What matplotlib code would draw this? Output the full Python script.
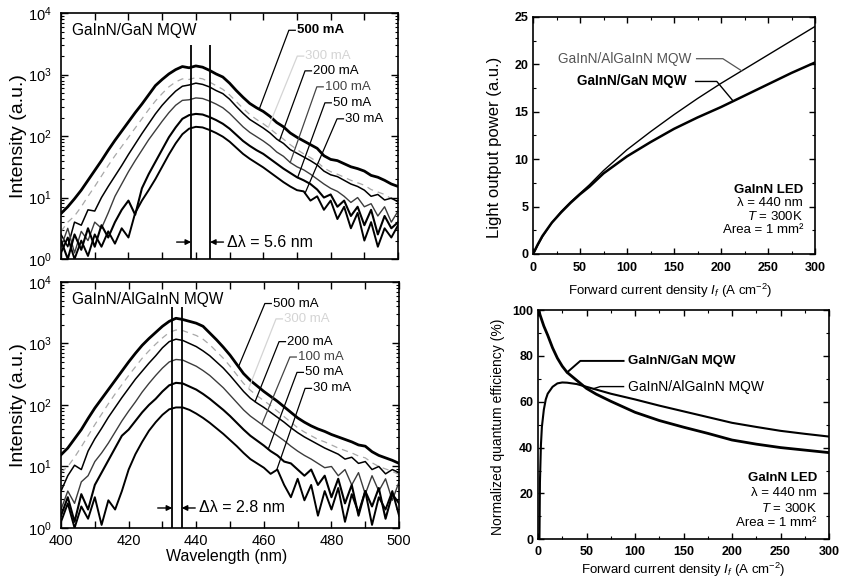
"""Emission spectra, light output and efficiency of GaInN/GaN vs GaInN/AlGaInN MQW LEDs."""
import matplotlib

matplotlib.use("Agg")
import matplotlib.pyplot as plt  # noqa: E402
import numpy as np  # noqa: E402
from matplotlib.ticker import LogLocator, MultipleLocator, NullFormatter  # noqa: E402

plt.rcParams.update({
    "font.family": ["Liberation Sans", "DejaVu Sans"],
    "mathtext.fontset": "custom",
    "mathtext.rm": "Liberation Sans",
    "mathtext.it": "Liberation Sans:italic",
    "mathtext.bf": "Liberation Sans:bold",
    "xtick.direction": "in",
    "ytick.direction": "in",
    "xtick.top": True,
    "ytick.right": True,
    "axes.linewidth": 1.2,
})

# --- spectra: log10 intensity (a.u.) on a 2 nm grid, 400..500 nm ---
WAVELENGTH = np.arange(400, 501, 2)
CURRENTS = ["500 mA", "300 mA", "200 mA", "100 mA", "50 mA", "30 mA"]

gan_500 = [0.74, 0.85, 0.98, 1.12, 1.28, 1.44, 1.60, 1.77, 1.93, 2.08,
           2.23, 2.38, 2.52, 2.67, 2.82, 2.92, 3.01, 3.08, 3.13, 3.11,
           3.14, 3.12, 3.07, 3.01, 2.96, 2.86, 2.74, 2.63, 2.53, 2.46,
           2.40, 2.32, 2.22, 2.15, 2.05, 1.98, 1.92, 1.86, 1.80, 1.68,
           1.62, 1.60, 1.55, 1.50, 1.47, 1.43, 1.36, 1.33, 1.28, 1.22, 1.18]
gan_300 = [0.45, 0.60, 0.70, 0.85, 1.02, 1.18, 1.35, 1.52, 1.68, 1.83,
           1.98, 2.13, 2.28, 2.43, 2.57, 2.69, 2.80, 2.88, 2.93, 2.92,
           2.95, 2.93, 2.88, 2.82, 2.76, 2.67, 2.56, 2.45, 2.35, 2.27,
           2.20, 2.12, 2.03, 1.95, 1.86, 1.78, 1.71, 1.65, 1.58, 1.48,
           1.42, 1.38, 1.33, 1.28, 1.24, 1.20, 1.13, 1.09, 1.05, 0.98, 0.94]
gan_200 = [0.40, 0.20, 0.60, 0.55, 0.80, 0.78, 1.00, 1.18, 1.35, 1.52,
           1.70, 1.87, 2.04, 2.20, 2.36, 2.50, 2.62, 2.73, 2.81, 2.83,
           2.86, 2.84, 2.80, 2.74, 2.69, 2.60, 2.48, 2.37, 2.27, 2.20,
           2.13, 2.05, 1.95, 1.88, 1.78, 1.72, 1.66, 1.60, 1.53, 1.43,
           1.37, 1.34, 1.28, 1.22, 1.18, 1.12, 1.02, 1.05, 0.96, 0.99, 0.93]
gan_100 = [0.20, 0.50, 0.10, 0.45, 0.30, 0.60, 0.50, 0.75, 1.02, 1.22,
           1.42, 1.60, 1.77, 1.94, 2.09, 2.24, 2.38, 2.50, 2.58, 2.59,
           2.62, 2.61, 2.57, 2.52, 2.46, 2.37, 2.26, 2.15, 2.06, 1.99,
           1.92, 1.84, 1.74, 1.67, 1.57, 1.50, 1.45, 1.38, 1.30, 1.22,
           1.15, 1.10, 1.02, 0.92, 1.00, 0.85, 0.90, 0.70, 0.85, 0.60, 0.78]
gan_50 = [0.30, 0.00, 0.40, 0.15, 0.50, 0.20, 0.55, 0.35, 0.60, 0.80,
          0.95, 0.72, 1.15, 1.38, 1.58, 1.78, 1.98, 2.14, 2.28, 2.34,
          2.36, 2.35, 2.31, 2.26, 2.20, 2.12, 2.02, 1.92, 1.84, 1.77,
          1.71, 1.63, 1.55, 1.47, 1.40, 1.33, 1.28, 1.22, 1.13, 1.00,
          1.05, 0.85, 0.95, 0.70, 0.85, 0.55, 0.80, 0.40, 0.70, 0.50, 0.60]
gan_30 = [0.10, 0.35, 0.00, 0.30, 0.05, 0.40, 0.20, 0.45, 0.25, 0.50,
          0.35, 0.75, 0.95, 1.12, 1.30, 1.50, 1.70, 1.88, 2.03, 2.12,
          2.15, 2.14, 2.10, 2.05, 1.99, 1.91, 1.81, 1.71, 1.63, 1.56,
          1.49, 1.41, 1.33, 1.25, 1.18, 1.12, 1.10, 0.95, 1.02, 0.80,
          0.95, 0.65, 0.85, 0.50, 0.75, 0.30, 0.60, 0.20, 0.50, 0.35, 0.55]

alg_500 = [1.19, 1.30, 1.45, 1.60, 1.78, 1.95, 2.10, 2.25, 2.40, 2.55,
           2.70, 2.84, 2.97, 3.08, 3.18, 3.28, 3.36, 3.41, 3.39, 3.36,
           3.33, 3.28, 3.17, 3.06, 2.94, 2.81, 2.66, 2.51, 2.40, 2.31,
           2.22, 2.14, 2.06, 1.97, 1.88, 1.79, 1.72, 1.66, 1.61, 1.57,
           1.52, 1.48, 1.44, 1.40, 1.35, 1.33, 1.24, 1.18, 1.14, 1.10, 1.05]
alg_300 = [0.90, 1.00, 1.15, 1.32, 1.50, 1.68, 1.85, 2.02, 2.18, 2.33,
           2.48, 2.62, 2.76, 2.88, 2.99, 3.09, 3.18, 3.22, 3.21, 3.17,
           3.13, 3.07, 2.98, 2.87, 2.76, 2.63, 2.49, 2.35, 2.24, 2.15,
           2.07, 1.99, 1.90, 1.81, 1.72, 1.63, 1.56, 1.50, 1.44, 1.40,
           1.35, 1.30, 1.26, 1.22, 1.17, 1.14, 1.06, 1.00, 0.96, 0.92, 0.87]
alg_200 = [0.60, 0.85, 1.02, 0.95, 1.25, 1.45, 1.62, 1.80, 1.96, 2.12,
           2.27, 2.42, 2.55, 2.68, 2.80, 2.93, 3.03, 3.07, 3.05, 3.00,
           2.95, 2.88, 2.80, 2.70, 2.60, 2.48, 2.35, 2.22, 2.11, 2.03,
           1.96, 1.88, 1.80, 1.72, 1.63, 1.55, 1.48, 1.42, 1.36, 1.30,
           1.25, 1.20, 1.12, 1.15, 1.05, 1.08, 0.95, 1.00, 0.88, 0.95, 0.90]
alg_100 = [0.30, 0.60, 0.40, 0.75, 0.85, 1.08, 1.22, 1.38, 1.56, 1.74,
           1.90, 2.05, 2.21, 2.35, 2.48, 2.60, 2.70, 2.74, 2.73, 2.68,
           2.63, 2.56, 2.48, 2.38, 2.28, 2.16, 2.04, 1.92, 1.82, 1.74,
           1.66, 1.58, 1.50, 1.42, 1.33, 1.25, 1.18, 1.12, 1.05, 0.98,
           1.00, 0.85, 0.95, 0.70, 0.90, 0.55, 0.85, 0.60, 0.80, 0.45, 0.75]
alg_50 = [0.20, 0.50, 0.10, 0.55, 0.30, 0.70, 0.90, 1.10, 1.30, 1.50,
          1.60, 1.74, 1.88, 2.00, 2.10, 2.22, 2.32, 2.36, 2.35, 2.30,
          2.25, 2.18, 2.10, 2.01, 1.92, 1.82, 1.71, 1.60, 1.50, 1.42,
          1.34, 1.25, 1.18, 1.08, 1.05, 0.95, 0.85, 0.95, 0.70, 0.85,
          0.50, 0.80, 0.40, 0.70, 0.20, 0.60, 0.35, 0.65, 0.15, 0.55, 0.40]
alg_30 = [0.10, 0.40, 0.00, 0.35, 0.15, 0.50, 0.05, 0.45, 0.30, 0.60,
          0.95, 1.20, 1.40, 1.58, 1.72, 1.84, 1.93, 1.96, 1.96, 1.92,
          1.86, 1.79, 1.71, 1.62, 1.53, 1.43, 1.33, 1.22, 1.12, 1.05,
          0.98, 0.88, 0.95, 0.70, 0.50, 0.80, 0.45, 0.70, 0.20, 0.60,
          0.30, 0.65, 0.10, 0.55, 0.25, 0.60, 0.05, 0.50, 0.30, 0.60, 0.20]

gan_peaks = [438.6, 444.2]   # nm, the two marked peak positions
alg_peaks = [432.9, 435.7]

# --- light output power vs forward current density ---
power_j = [0, 2, 5, 10, 20, 30, 40, 50, 60, 75, 100, 125, 150, 175, 200, 225, 250, 275, 300]
power_gan = [0, 0.4, 1.0, 1.9, 3.3, 4.4, 5.4, 6.3, 7.1, 8.5, 10.3, 11.8, 13.2, 14.4, 15.5,
             16.7, 17.9, 19.1, 20.2]
power_alg = [0, 0.3, 0.9, 1.8, 3.3, 4.5, 5.5, 6.4, 7.3, 8.8, 11.0, 12.9, 14.7, 16.4, 18.0,
             19.5, 21.0, 22.5, 24.0]

# --- normalized quantum efficiency ---
eff_j_gan = [1, 2, 4, 6, 8, 10, 15, 20, 25, 30, 40, 50, 60, 75, 100, 125, 150, 175, 200,
             225, 250, 275, 300]
eff_gan = [100, 98, 95.5, 93, 91, 89, 83.5, 79, 75.5, 72.8, 69.3, 65.8, 63.3, 60.2, 55.4,
           51.8, 48.9, 46.2, 43.3, 41.5, 40.0, 38.9, 37.8]
eff_j_alg = [1.5, 2, 3, 4, 6, 8, 10, 15, 20, 25, 30, 40, 50, 75, 100, 125, 150, 175, 200,
             225, 250, 275, 300]
eff_alg = [0, 25, 41, 49, 56.5, 61, 63.5, 66.5, 68.0, 68.4, 68.3, 67.7, 66.5, 63.5, 61.0,
           58.3, 55.8, 53.3, 50.8, 49.0, 47.3, 46.0, 44.8]

for _curve in (gan_500, gan_300, gan_200, gan_100, gan_50, gan_30,
               alg_500, alg_300, alg_200, alg_100, alg_50, alg_30):
    assert len(_curve) == len(WAVELENGTH)

CURVE_STYLE = {
    "500 mA": dict(color="black", lw=2.0),
    "300 mA": dict(color="#a8a8a8", lw=0.9, ls=(0, (5, 4))),
    "200 mA": dict(color="black", lw=1.1),
    "100 mA": dict(color="#3c3c3c", lw=1.0),
    "50 mA": dict(color="black", lw=1.5),
    "30 mA": dict(color="black", lw=1.4),
}
LABEL_COLOR = {"500 mA": "black", "300 mA": "#d4d4d4", "200 mA": "black",
               "100 mA": "#444444", "50 mA": "black", "30 mA": "black"}

# label layout per current: (text wavelength, text log10 height, leader end wavelength)
GAN_LABELS = [(470.0, 3.72, 458.8), (472.5, 3.30, 461.5), (474.8, 3.06, 464.8),
              (478.3, 2.80, 468.0), (480.7, 2.54, 470.2), (484.3, 2.28, 472.4)]
ALG_LABELS = [(462.7, 3.65, 452.5), (466.0, 3.40, 455.5), (466.9, 3.03, 457.4),
              (470.1, 2.78, 459.4), (472.2, 2.53, 461.3), (474.6, 2.27, 463.8)]


def draw_spectra(ax, curves, labels, peaks, line_top, arrow_log, delta_text, title,
                 bold_500):
    for name, logs in zip(CURRENTS, curves):
        ax.plot(WAVELENGTH, 10.0 ** np.asarray(logs), solid_joinstyle="round",
                **CURVE_STYLE[name])
    for name, logs, (tx, tlog, end_wl) in zip(CURRENTS, curves, labels):
        ty = 10.0 ** tlog
        end_y = 10.0 ** np.interp(end_wl, WAVELENGTH, logs)
        ax.plot([end_wl, tx - 2.4, tx - 0.5], [end_y, ty, ty],
                color=LABEL_COLOR[name], lw=0.9)
        weight = "bold" if (bold_500 and name == "500 mA") else "normal"
        ax.text(tx, ty, name, fontsize=9.5, va="center", ha="left",
                color=LABEL_COLOR[name], fontweight=weight)

    ax.vlines(peaks, 1, 10.0 ** line_top, color="black", lw=1.3)
    ya = 10.0 ** arrow_log
    arrow = dict(arrowstyle="-|>", color="black", lw=1.0, mutation_scale=8,
                 shrinkA=0, shrinkB=0)
    ax.annotate("", xy=(peaks[0], ya), xytext=(peaks[0] - 4.3, ya), arrowprops=arrow)
    ax.annotate("", xy=(peaks[1], ya), xytext=(peaks[1] + 4.0, ya), arrowprops=arrow)
    ax.text(peaks[1] + 5.0, ya, delta_text, fontsize=11.5, va="center", ha="left")
    ax.text(0.033, 0.93, title, transform=ax.transAxes, fontsize=11.2,
            va="center", ha="left")

    ax.set_xlim(400, 500)
    ax.set_yscale("log")
    ax.set_ylim(1, 1e4)
    ax.xaxis.set_major_locator(MultipleLocator(20))
    ax.xaxis.set_minor_locator(MultipleLocator(10))
    ax.yaxis.set_major_locator(LogLocator(base=10, numticks=10))
    ax.yaxis.set_minor_locator(LogLocator(base=10, subs=np.arange(2, 10), numticks=10))
    ax.yaxis.set_minor_formatter(NullFormatter())
    ax.tick_params(which="major", length=5, width=1.0, labelsize=10.5)
    ax.tick_params(axis="y", which="major", pad=7)
    ax.tick_params(axis="x", which="major", pad=4.5)
    ax.tick_params(axis="x", which="minor", length=5, width=1.0)
    ax.tick_params(axis="y", which="minor", length=2.5, width=0.8)
    ax.set_ylabel("Intensity (a.u.)", fontsize=14)
    ax.yaxis.set_label_coords(-0.101, 0.5)


def style_right(ax, ymax, ymajor, label_pad):
    ax.set_xlim(0, 300)
    ax.set_ylim(0, ymax)
    ax.xaxis.set_major_locator(MultipleLocator(50))
    ax.xaxis.set_minor_locator(MultipleLocator(25))
    ax.yaxis.set_major_locator(MultipleLocator(ymajor))
    ax.yaxis.set_minor_locator(MultipleLocator(ymajor / 2))
    ax.tick_params(which="major", length=4, width=1.0, labelsize=9)
    ax.tick_params(axis="x", which="major", pad=label_pad)
    ax.tick_params(which="minor", length=2, width=0.8)
    for lab in ax.get_xticklabels() + ax.get_yticklabels():
        lab.set_fontweight("bold")
    ax.set_xlabel(r"Forward current density $I_f$ (A cm$^{-2}$)", fontsize=9.5)


def led_block(ax, y_fracs):
    lines = ["GaInN LED", "λ = 440 nm", r"$T$ = 300K", "Area = 1 mm²"]
    for i, (text, yf) in enumerate(zip(lines, y_fracs)):
        ax.text(0.958, yf, text, transform=ax.transAxes, fontsize=9.5, ha="right",
                va="center", fontweight="bold" if i == 0 else "normal")


fig = plt.figure(figsize=(8.43, 5.8), dpi=100)
fig.patch.set_facecolor("white")

ax_gan = fig.add_axes([0.0724, 0.5534, 0.3998, 0.4241])
ax_alg = fig.add_axes([0.0724, 0.0897, 0.4010, 0.4241])
ax_pow = fig.add_axes([0.6323, 0.5621, 0.3345, 0.4086])
ax_eff = fig.add_axes([0.6382, 0.0702, 0.3452, 0.3953])

draw_spectra(ax_gan, [gan_500, gan_300, gan_200, gan_100, gan_50, gan_30], GAN_LABELS,
             gan_peaks, 3.48, 0.276, "Δλ = 5.6 nm", "GaInN/GaN MQW", True)
ax_gan.tick_params(axis="x", labelbottom=False)

draw_spectra(ax_alg, [alg_500, alg_300, alg_200, alg_100, alg_50, alg_30], ALG_LABELS,
             alg_peaks, 3.59, 0.325, "Δλ = 2.8 nm", "GaInN/AlGaInN MQW", False)
ax_alg.set_xlabel("Wavelength (nm)", fontsize=11.5)
ax_alg.xaxis.set_label_coords(0.49, -0.085)

# light output power
ax_pow.plot(power_j, power_alg, color="black", lw=1.0)
ax_pow.plot(power_j, power_gan, color="black", lw=1.8)
ax_pow.text(26.6, 20.6, "GaInN/AlGaInN MQW", fontsize=9.8, va="center", color="#555555")
ax_pow.plot([174, 202, 222], [20.6, 20.6, np.interp(222, power_j, power_alg)],
            color="#555555", lw=0.9)
ax_pow.text(46.5, 18.2, "GaInN/GaN MQW", fontsize=9.8, va="center", fontweight="bold")
ax_pow.plot([173, 195.5, 213], [18.2, 18.2, np.interp(213, power_j, power_gan)],
            color="black", lw=1.0)
led_block(ax_pow, [0.27, 0.214, 0.158, 0.101])
style_right(ax_pow, 25, 5, 6)
ax_pow.set_ylabel("Light output power (a.u.)", fontsize=12)
ax_pow.yaxis.set_label_coords(-0.11, 0.45)
ax_pow.xaxis.set_label_coords(0.486, -0.117)

# normalized quantum efficiency
ax_eff.plot(eff_j_alg, eff_alg, color="black", lw=1.5)
ax_eff.plot(eff_j_gan, eff_gan, color="black", lw=2.0)
ax_eff.text(93.1, 77.8, "GaInN/GaN MQW", fontsize=9.5, va="center", fontweight="bold")
ax_eff.plot([88.2, 43.6, 30], [77.8, 77.8, np.interp(30, eff_j_gan, eff_gan)],
            color="black", lw=1.4)
ax_eff.text(93.1, 66.6, "GaInN/AlGaInN MQW", fontsize=10, va="center")
ax_eff.plot([88.2, 64.1, 57], [66.6, 66.6, np.interp(57, eff_j_alg, eff_alg)],
            color="black", lw=1.0)
led_block(ax_eff, [0.266, 0.2, 0.135, 0.07])
style_right(ax_eff, 100, 20, 5)
ax_eff.set_ylabel("Normalized quantum efficiency (%)", fontsize=10)
ax_eff.yaxis.set_label_coords(-0.113, 0.49)
ax_eff.xaxis.set_label_coords(0.498, -0.092)

fig.savefig("out.png", dpi=100, facecolor="white")
plt.close(fig)
